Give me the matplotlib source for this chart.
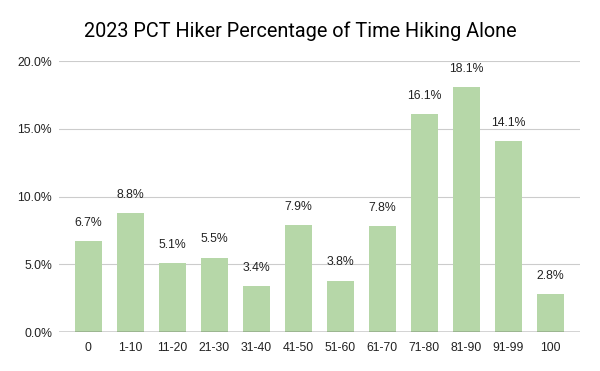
import matplotlib.pyplot as plt
from matplotlib.ticker import FuncFormatter

# Data
categories = ["0", "1-10", "11-20", "21-30", "31-40", "41-50", "51-60",
              "61-70", "71-80", "81-90", "91-99", "100"]
percentages = [6.7, 8.8, 5.1, 5.5, 3.4, 7.9, 3.8, 7.8, 16.1, 18.1, 14.1, 2.8]
yTicks = [0, 5, 10, 15, 20]

plt.rcParams['font.family'] = ['Liberation Sans', 'DejaVu Sans']

fig = plt.figure(figsize=(6, 3.71), dpi=100)
ax = fig.add_axes([0.0983, 0.1051, 0.868, 0.7296])

positions = range(len(categories))
ax.bar(positions, percentages, width=0.64, color="#b6d7a8", zorder=3)

for x, value in zip(positions, percentages):
    ax.text(x, value + 0.9, f"{value:.1f}%", ha="center", va="bottom",
            fontsize=8.8, color="#222222")

ax.set_xlim(-0.7, 11.7)
ax.set_ylim(0, 20)
ax.set_yticks(yTicks)
ax.yaxis.set_major_formatter(FuncFormatter(lambda v, p: f"{v:.1f}%"))
ax.set_xticks(list(positions))
ax.set_xticklabels(categories)

ax.grid(axis="y", color="#cccccc", linewidth=0.8, zorder=0)
ax.axhline(0, color="#333333", linewidth=1.0, zorder=4)
for side in ["top", "right", "left", "bottom"]:
    ax.spines[side].set_visible(False)
ax.tick_params(axis="both", length=0, labelsize=8.8, colors="#222222")
ax.tick_params(axis="x", pad=7)
ax.tick_params(axis="y", pad=5)

fig.text(0.5, 0.915, "2023 PCT Hiker Percentage of Time Hiking Alone",
         ha="center", va="center", fontsize=14.3, color="#000000",
         family=["Roboto", "DejaVu Sans"])

fig.savefig("out.png", dpi=100)
